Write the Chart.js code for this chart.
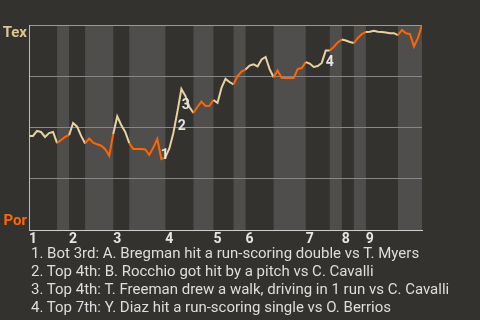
<!DOCTYPE html>
<html>
<head>
<meta charset="utf-8">
<script src="https://cdn.jsdelivr.net/npm/chart.js@4"></script>
<style>
  html, body { margin: 0; padding: 0; background: #34322f; }
  #wrap { position: relative; width: 480px; height: 320px; }
  #notes {
    position: absolute; left: 31px; top: 244px;
    font: 15px Roboto, sans-serif; line-height: 18px;
    color: #dedede; white-space: nowrap;
  }
</style>
</head>
<body>
<div id="wrap">
  <canvas id="c" width="480" height="320"></canvas>
  <div id="notes"></div>
</div>
<script>
// play index where each half inning starts (top 1st, bot 1st, top 2nd ...)
const halfStarts = [0, 7, 10, 14, 21, 25, 34, 41, 46, 51, 54, 61, 69, 75, 78, 81, 84, 92]
const lastPlay = 98
const innings = ["1", "2", "3", "4", "5", "6", "7", "8", "9"]
const teams = ["Tex", "Por"]

// Tex win probability (%) after each play
const winPct = [
  45.9, 45.9, 48.3, 47.8, 45.4, 47.3, 47.8, 42.4, 43.9, 45.4,
  46.3, 52.2, 50.4, 45.9, 42.2, 44.6, 42.6, 41.8, 41.1, 39.4,
  36.2, 46.8, 55.4, 51.2, 47.8, 42.4, 39.5, 39.5, 39.5, 39.3,
  36.6, 40.2, 44.4, 34.6, 35.4, 39.8, 47.3, 57.6, 68.8, 65.4,
  60.0, 57.1, 60.0, 62.6, 60.5, 60.6, 63.4, 62.0, 69.3, 73.7,
  72.2, 71.0, 75.1, 77.3, 78.3, 80.2, 80.8, 79.8, 83.2, 84.4,
  78.5, 74.5, 77.8, 74.1, 74.1, 74.1, 74.1, 78.5, 79.0, 81.9,
  81.2, 79.5, 80.0, 81.5, 87.6, 87.6, 89.3, 91.5, 92.9, 92.4,
  91.7, 91.2, 93.7, 95.6, 96.6, 96.7, 97.2, 96.7, 96.6, 96.3,
  96.0, 96.0, 95.1, 97.6, 96.0, 95.6, 89.5, 93.7, 100
]

const markerPlays = [33, 37, 38, 74]
const notes = [
  "1. Bot 3rd: A. Bregman hit a run-scoring double vs T. Myers",
  "2. Top 4th: B. Rocchio got hit by a pitch vs C. Cavalli",
  "3. Top 4th: T. Freeman drew a walk, driving in 1 run vs C. Cavalli",
  "4. Top 7th: Y. Diaz hit a run-scoring single vs O. Berrios",
]

const topColor = "#e6d2a2"
const botColor = "#ff6600"
const bandColor = "#4f4e4c"
const labelOffsets = [[3.5, -4], [4.5, 15], [4.5, 17], [4, 12.5]]

const topStarts = halfStarts.filter((v, i) => i % 2 === 0)

document.getElementById("notes").innerHTML = notes.map((n) => `<div>${n}</div>`).join("")

function halfIndex(x) {
  let h = 0
  for (let i = 0; i < halfStarts.length; i++) {
    if (x >= halfStarts[i]) h = i
  }
  return h
}

const bands = {
  id: "bands",
  beforeDraw(chart) {
    const { ctx, chartArea: a } = chart
    const x = chart.scales.x
    ctx.save()
    ctx.fillStyle = bandColor
    halfStarts.forEach((s, i) => {
      if (i % 2 === 1) {
        const e = i + 1 < halfStarts.length ? halfStarts[i + 1] : lastPlay
        const x0 = x.getPixelForValue(s)
        const x1 = x.getPixelForValue(e)
        ctx.fillRect(x0, a.top, x1 - x0, a.bottom - a.top)
      }
    })
    ctx.restore()
  },
}

const teamLabels = {
  id: "teamLabels",
  afterDraw(chart) {
    const { ctx } = chart
    const y = chart.scales.y
    ctx.save()
    ctx.font = "bold 15px Roboto"
    ctx.textAlign = "right"
    ctx.textBaseline = "alphabetic"
    ctx.fillStyle = "#dcc690"
    ctx.fillText(teams[0], 27, y.getPixelForValue(100) + 11.5)
    ctx.fillStyle = botColor
    ctx.fillText(teams[1], 27, y.getPixelForValue(0) - 5)
    ctx.restore()
  },
}

const markers = {
  id: "markers",
  afterDatasetsDraw(chart) {
    const { ctx } = chart
    const pts = chart.getDatasetMeta(0).data
    ctx.save()
    ctx.font = "bold 14px Roboto"
    ctx.textAlign = "center"
    ctx.textBaseline = "middle"
    ctx.fillStyle = "#e4e4e4"
    markerPlays.forEach((p, i) => {
      const pt = pts[p]
      ctx.fillText(String(i + 1), pt.x + labelOffsets[i][0], pt.y + labelOffsets[i][1])
    })
    ctx.restore()
  },
}

new Chart(document.getElementById("c"), {
  type: "line",
  data: {
    datasets: [
      {
        data: winPct.map((v, i) => ({ x: i, y: v })),
        borderWidth: 2,
        pointRadius: 0,
        tension: 0,
        borderColor: topColor,
        segment: {
          borderColor: (ctx) =>
            halfIndex((ctx.p0.parsed.x + ctx.p1.parsed.x) / 2) % 2 ? botColor : topColor,
        },
      },
    ],
  },
  options: {
    responsive: false,
    animation: false,
    layout: { padding: { top: 25, right: 58, left: 0, bottom: 0 } },
    plugins: {
      legend: { display: false },
      tooltip: { enabled: false },
    },
    scales: {
      x: {
        type: "linear",
        min: 0,
        max: lastPlay,
        grid: { display: false, drawTicks: false },
        border: { color: "#cfcfcf", width: 1 },
        afterFit(scale) {
          scale.height = 90
        },
        afterBuildTicks(scale) {
          scale.ticks = topStarts.map((v) => ({ value: v }))
        },
        ticks: {
          autoSkip: false,
          maxRotation: 0,
          align: "start",
          padding: 1,
          color: "#e6e6e6",
          font: { family: "Roboto", size: 14, weight: "bold" },
          callback: (v, i) => innings[i],
        },
      },
      y: {
        min: 0,
        max: 100,
        afterFit(scale) {
          scale.width = 29
        },
        ticks: { display: false, stepSize: 25 },
        grid: {
          drawTicks: false,
          color: (ctx) =>
            ctx.tick.value === 100 ? "#9a9a9a" : ctx.tick.value === 0 ? "rgba(0,0,0,0)" : "#878787",
        },
        border: { color: "#bdbdbd", width: 1 },
      },
    },
  },
  plugins: [bands, teamLabels, markers],
})
</script>
</body>
</html>
